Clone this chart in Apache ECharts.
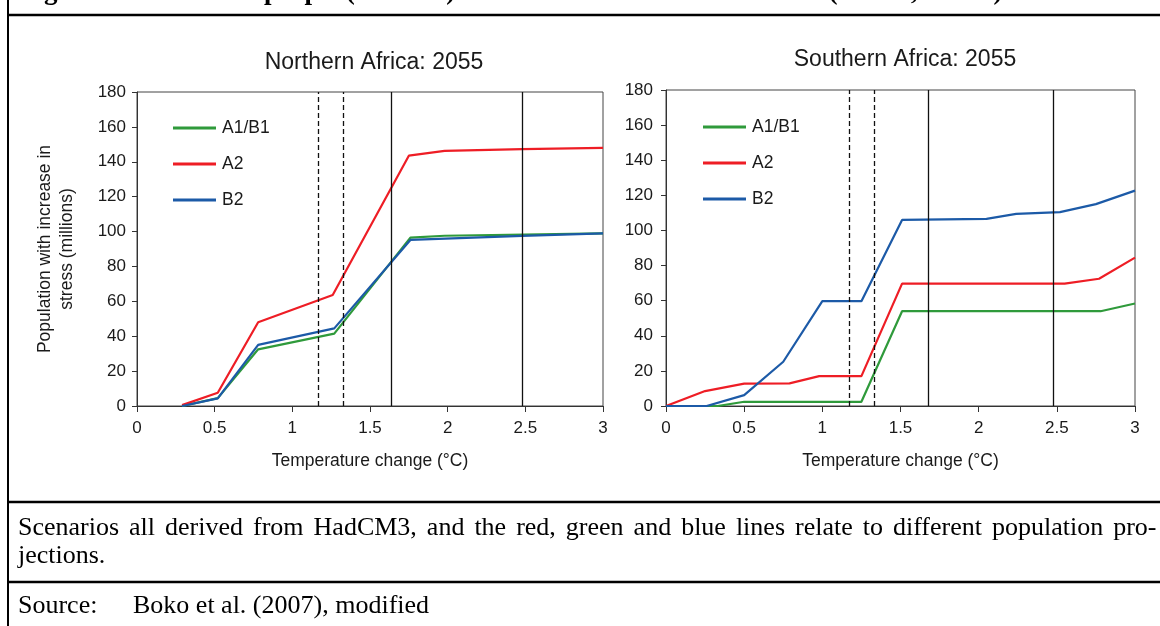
<!DOCTYPE html>
<html>
<head>
<meta charset="utf-8">
<script src="https://cdn.jsdelivr.net/npm/echarts@6/dist/echarts.min.js"></script>
<style>
html,body{margin:0;padding:0;background:#fff;}
#chart{width:1160px;height:626px;}
</style>
</head>
<body>
<div id="chart"></div>
<script>
// ---- data ----
const seriesNames = ['A1/B1', 'A2', 'B2'];
const seriesColors = ['#2f9a3b', '#ee1d25', '#1c5aa7'];
const panelTitles = ['Northern Africa: 2055', 'Southern Africa: 2055'];
const xTickValues = [0, 0.5, 1, 1.5, 2, 2.5, 3];
const yTickValues = [0, 20, 40, 60, 80, 100, 120, 140, 160, 180];

// [temperature change, population (millions)]
const northA1B1 = [[0.29,0],[0.52,4.5],[0.78,32.5],[1.27,41.5],[1.76,96.5],[1.98,97.6],[3.0,99]];
const northA2   = [[0.29,0.5],[0.52,7.6],[0.78,48],[1.26,63.6],[1.75,143.5],[1.98,146.3],[2.48,147.3],[3.0,148]];
const northB2   = [[0.29,0],[0.52,4.4],[0.78,35],[1.27,44.5],[1.76,95.2],[2.48,97.5],[3.0,99]];

const southA1B1 = [[0,0],[0.33,0],[0.5,2.4],[1.25,2.4],[1.51,54],[2.78,54],[3.0,58.4]];
const southA2   = [[0,0],[0.25,8.5],[0.5,12.7],[0.79,12.9],[0.98,17],[1.25,17],[1.51,69.7],[2.55,69.7],[2.77,72.5],[3.0,84.5]];
const southB2   = [[0,0],[0.26,0],[0.5,6.2],[0.75,25.2],[1.0,59.7],[1.25,59.7],[1.51,106],[2.05,106.6],[2.24,109.4],[2.52,110.4],[2.75,115],[3.0,122.7]];

// reference lines (temperature thresholds)
const northDashed = [1.17, 1.33];
const northSolid  = [1.64, 2.48];
const southDashed = [1.17, 1.33];
const southSolid  = [1.68, 2.48];

const captionLine1 = 'Scenarios all derived from HadCM3, and the red, green and blue lines relate to different population pro-';
const captionLine2 = 'jections.';
const sourceLabel = 'Source:';
const sourceText = 'Boko et al. (2007), modified';
const figureTitle = 'Figure 4: Number of people (millions) with an increase in water stress (Arnell, 2006b)';
const xAxisName = 'Temperature change (°C)';
const yAxisName = 'Population with increase in\nstress (millions)';

// ---- chart ----
const SANS = '"Liberation Sans", Arial, sans-serif';
const SERIF = '"Liberation Serif", "Times New Roman", serif';
const TXT = '#1a1a1a';

const grids = [
  {left: 137, top: 92, width: 466, height: 314},
  {left: 666, top: 90, width: 469, height: 316}
];

function xAxis(i) {
  return {
    type: 'value', gridIndex: i, min: 0, max: 3, interval: 0.5,
    name: xAxisName, nameLocation: 'middle', nameGap: 46,
    nameTextStyle: {fontFamily: SANS, fontSize: 17.5, color: TXT},
    axisLine: {show: true, lineStyle: {color: '#333', width: 1}},
    axisTick: {show: true, length: 6, lineStyle: {color: '#333'}},
    axisLabel: {fontFamily: SANS, fontSize: 17, color: TXT, margin: 14},
    splitLine: {show: false}
  };
}
function yAxis(i) {
  const a = {
    type: 'value', gridIndex: i, min: 0, max: 180, interval: 20,
    axisLine: {show: true, lineStyle: {color: '#333', width: 1}},
    axisTick: {show: true, length: 5, lineStyle: {color: '#333'}},
    axisLabel: {fontFamily: SANS, fontSize: 17, color: TXT, margin: i === 0 ? 11 : 13},
    splitLine: {show: false}
  };
  if (i === 0) {
    a.name = yAxisName;
    a.nameLocation = 'middle';
    a.nameGap = 59;
    a.nameRotate = 90;
    a.nameTextStyle = {fontFamily: SANS, fontSize: 17.5, color: TXT, lineHeight: 22};
  }
  return a;
}

function lineSeries(name, data, idx, gi) {
  return {
    type: 'line', name: name, data: data, xAxisIndex: gi, yAxisIndex: gi,
    symbol: 'none', z: 3,
    lineStyle: {color: seriesColors[idx], width: 2.2},
    itemStyle: {color: seriesColors[idx]},
    emphasis: {disabled: true}
  };
}
function refSeries(gi, dashed, solid) {
  const d = dashed.map(v => ({xAxis: v, lineStyle: {type: [5, 3], width: 1.3, color: '#111'}}));
  const s = solid.map(v => ({xAxis: v, lineStyle: {type: 'solid', width: 1.3, color: '#111'}}));
  return {
    type: 'line', data: [], xAxisIndex: gi, yAxisIndex: gi, z: 2, silent: true,
    markLine: {symbol: 'none', silent: true, label: {show: false}, animation: false, data: d.concat(s)}
  };
}

function legend(left, top) {
  return {
    data: seriesNames, orient: 'vertical', left: left, top: top,
    icon: 'rect', itemWidth: 43, itemHeight: 3, itemGap: 18, selectedMode: false,
    textStyle: {fontFamily: SANS, fontSize: 17.5, color: TXT, lineHeight: 18, padding: [0, 0, 0, 1]}
  };
}

const captionRichText = captionLine1.split(' ').join('{s| }');
const CAP_FONT = '26px ' + SERIF;

const option = {
  animation: false,
  backgroundColor: '#ffffff',
  grid: grids.map(g => Object.assign({show: true, borderColor: '#444', borderWidth: 1, backgroundColor: '#fff'}, g)),
  title: [
    {text: panelTitles[0], left: 369, top: 46, textAlign: 'center',
     textStyle: {fontFamily: SANS, fontSize: 23, fontWeight: 'normal', color: TXT}},
    {text: panelTitles[1], left: 900, top: 43, textAlign: 'center',
     textStyle: {fontFamily: SANS, fontSize: 23, fontWeight: 'normal', color: TXT}}
  ],
  legend: [legend(168, 114), legend(698, 113)],
  xAxis: [xAxis(0), xAxis(1)],
  yAxis: [yAxis(0), yAxis(1)],
  series: [
    refSeries(0, northDashed, northSolid),
    lineSeries(seriesNames[0], northA1B1, 0, 0),
    lineSeries(seriesNames[1], northA2, 1, 0),
    lineSeries(seriesNames[2], northB2, 2, 0),
    refSeries(1, southDashed, southSolid),
    lineSeries(seriesNames[0], southA1B1, 0, 1),
    lineSeries(seriesNames[1], southA2, 1, 1),
    lineSeries(seriesNames[2], southB2, 2, 1)
  ],
  graphic: [
    {type: 'line', shape: {x1: 8, y1: 0, x2: 8, y2: 626}, style: {stroke: '#000', lineWidth: 2}},
    {type: 'line', shape: {x1: 8, y1: 15, x2: 1160, y2: 15}, style: {stroke: '#000', lineWidth: 2.5}},
    {type: 'line', shape: {x1: 8, y1: 502, x2: 1160, y2: 502}, style: {stroke: '#000', lineWidth: 2.5}},
    {type: 'line', shape: {x1: 8, y1: 582, x2: 1160, y2: 582}, style: {stroke: '#000', lineWidth: 2.5}},
    {type: 'text', x: 20, y: 6, style: {text: figureTitle, font: 'bold 27px ' + SERIF, fill: '#000', verticalAlign: 'bottom'}},
    {type: 'text', x: 18, y: 528, style: {text: captionRichText, font: CAP_FONT, fill: '#000', verticalAlign: 'middle',
      rich: {s: {width: 10, font: CAP_FONT}}}},
    {type: 'text', x: 18, y: 556, style: {text: captionLine2, font: CAP_FONT, fill: '#000', verticalAlign: 'middle'}},
    {type: 'text', x: 18, y: 606, style: {text: sourceLabel, font: CAP_FONT, fill: '#000', verticalAlign: 'middle'}},
    {type: 'text', x: 133, y: 606, style: {text: sourceText, font: CAP_FONT, fill: '#000', verticalAlign: 'middle'}}
  ]
};

const chart = echarts.init(document.getElementById('chart'), null, {renderer: 'canvas'});
chart.setOption(option);
</script>
</body>
</html>
